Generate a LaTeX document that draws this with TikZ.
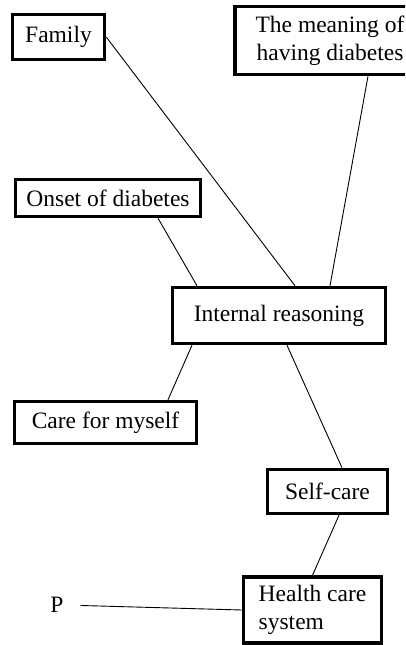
\documentclass[tikz,border=0pt]{standalone}
\usepackage{fontspec}
\setmainfont{Liberation Serif}
\usetikzlibrary{calc}

\begin{document}
\begin{tikzpicture}[x=1pt,y=-1pt,
	box/.style={draw,line width=3.5pt,inner sep=0pt,align=center,
		font=\fontsize{23.5}{28}\selectfont},
	link/.style={line width=0.9pt}]
\useasboundingbox (0,0) rectangle (405,645);
\begin{scope}
	\clip (0,0) rectangle (405,645);
	% boxes
	\node[box,minimum width=92pt,minimum height=45pt] (F) at (58.5,37) {Family};
	\node[box,minimum width=190pt,minimum height=68pt] (M) at (330,40.5) {The meaning of\\having diabetes};
	\node[box,minimum width=185pt,minimum height=37pt] (O) at (108,198) {Onset of diabetes};
	\node[box,minimum width=213pt,minimum height=56pt] (I) at (279,315.5) {Internal reasoning};
	\node[box,minimum width=182pt,minimum height=42pt] (C) at (105.5,422.5) {Care for myself};
	\node[box,minimum width=120pt,minimum height=44pt] (S) at (327.5,491.5) {Self-care};
	\node[box,minimum width=138pt,minimum height=66pt,align=left] (H) at (312.5,610) {Health care\\system};
	\node[font=\fontsize{23.5}{28}\selectfont,inner sep=0pt] (P) at (57,605) {P};
	% links
	\draw[link] (F.east) -- ([xshift=16pt]I.north);
	\draw[link] ([xshift=38pt]M.south) -- ([xshift=51pt]I.north);
	\draw[link] ([xshift=50pt]O.south) -- ([xshift=-82pt]I.north);
	\draw[link] ([xshift=-87pt]I.south) -- ([xshift=62.5pt]C.north);
	\draw[link] ([xshift=8pt]I.south) -- ([xshift=14.5pt]S.north);
	\draw[link] ([xshift=11.5pt]S.south) -- (H.north);
	\draw[link,shorten <=17pt] (P.east) -- (H.west);
\end{scope}
\end{tikzpicture}
\end{document}
